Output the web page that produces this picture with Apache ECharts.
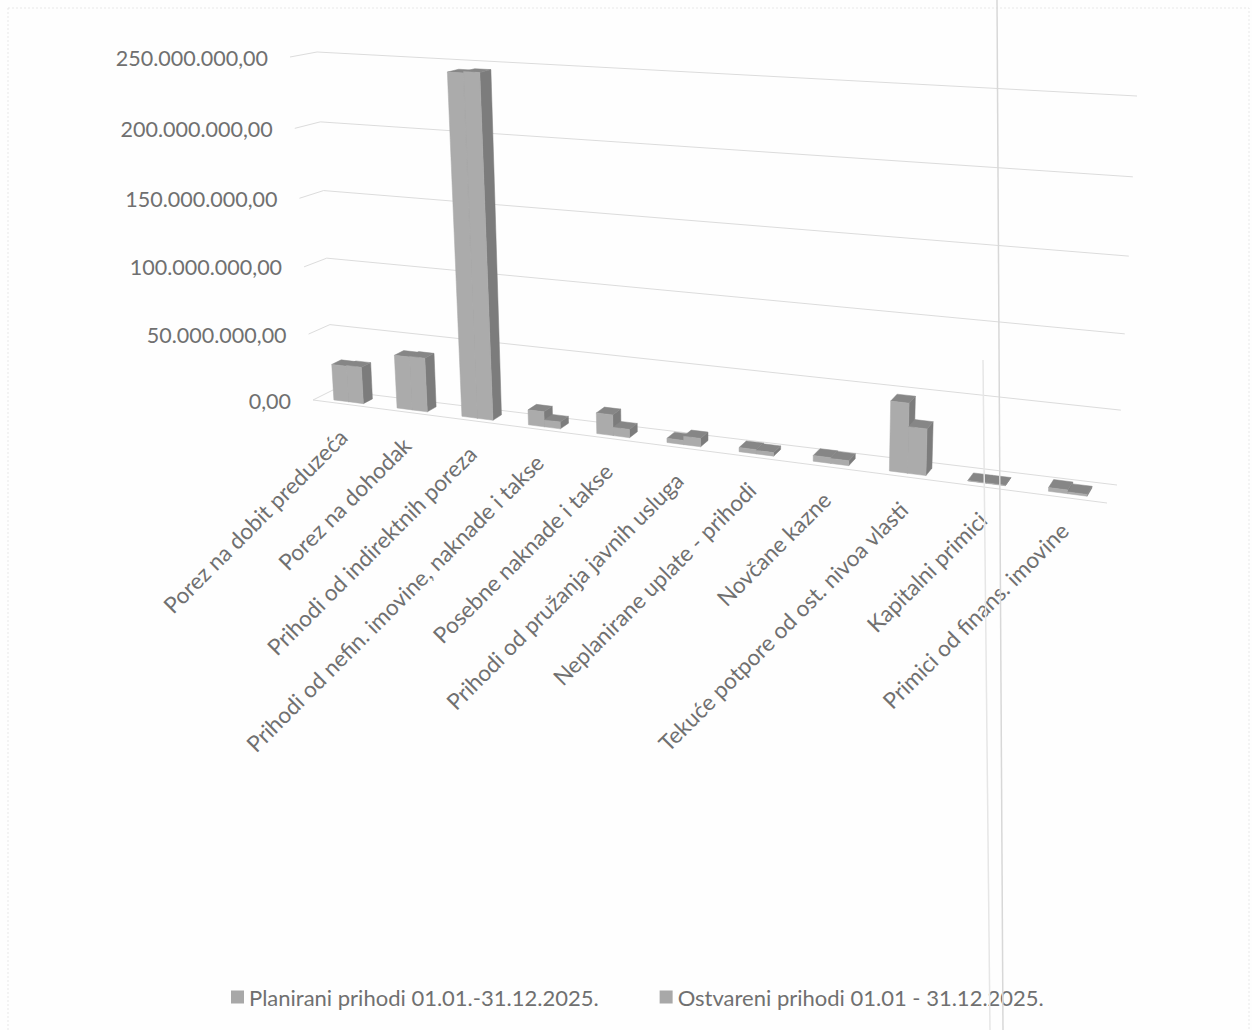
<!DOCTYPE html>
<html><head><meta charset="utf-8">
<style>html,body{margin:0;padding:0;background:#fefefe}#c{width:1252px;height:1030px}</style>
<script src="https://cdn.jsdelivr.net/npm/echarts@6/dist/echarts.min.js"></script>
</head><body><div id="c"></div>
<script>
const categories = ["Porez na dobit preduzeća","Porez na dohodak","Prihodi od indirektnih poreza","Prihodi od nefin. imovine, naknade i takse","Posebne naknade i takse","Prihodi od pružanja javnih usluga","Neplanirane uplate - prihodi","Novčane kazne","Tekuće potpore od ost. nivoa vlasti","Kapitalni primici","Primici od finans. imovine"];
const planirani = [27000000,39500000,245000000,11000000,15000000,3000000,3000000,4000000,48000000,300000,2500000];
const ostvareni = [27500000,40000000,246000000,5000000,6000000,6000000,2500000,3500000,32000000,300000,1200000];
const yTicks = [0,50000000,100000000,150000000,200000000,250000000];
const yTickLabels = ["0,00","50.000.000,00","100.000.000,00","150.000.000,00","200.000.000,00","250.000.000,00"];
const seriesNames = ["Planirani prihodi 01.01.-31.12.2025.","Ostvareni prihodi 01.01 - 31.12.2025."];

// perspective of the chart box: [bottom-left, bottom-right, top-right, top-left]
const frontWall = [[313,400],[1107,503],[1127,107],[290,57]];
const backWall  = [[333,390],[1117,485],[1137,96],[317,52]];
function homography(q){
  const [p0,p1,p2,p3]=q;
  const dx1=p1[0]-p2[0],dx2=p3[0]-p2[0],sx=p0[0]-p1[0]+p2[0]-p3[0];
  const dy1=p1[1]-p2[1],dy2=p3[1]-p2[1],sy=p0[1]-p1[1]+p2[1]-p3[1];
  const d=dx1*dy2-dx2*dy1;
  const g=(sx*dy2-dx2*sy)/d,h=(dx1*sy-sx*dy1)/d;
  const a=p1[0]-p0[0]+g*p1[0],b=p3[0]-p0[0]+h*p3[0],c=p0[0];
  const e=p1[1]-p0[1]+g*p1[1],f=p3[1]-p0[1]+h*p3[1],k=p0[1];
  return (u,v)=>{const w=g*u+h*v+1;return [(a*u+b*v+c)/w,(e*u+f*v+k)/w];};
}
const H0=homography(frontWall),H1=homography(backWall);
function proj(u,v,w){const a=H0(u,v),b=H1(u,v);return [a[0]+(b[0]-a[0])*w,a[1]+(b[1]-a[1])*w];}

const barW=0.235, depth0=0.22, depth1=0.68;
const frontCol='#ababab', sideCol='#7c7c7c', topCol='#868686', textCol='#707070';
const yFont='21.5px Lato', xFont='22.5px Lato';

function norm(params,pt){const r=params.coordSys;return [(pt[0]-r.x)/r.width,1-(pt[1]-r.y)/r.height];}
function barRenderer(offset){
  return function(params,api){
    const i=api.value(0),val=api.value(1);
    const band=api.size([1,0])[0]/params.coordSys.width;
    const a=norm(params,api.coord([i,val])),b=norm(params,api.coord([i,0]));
    const u0=a[0]+offset*band,u1=u0+barW*band,vt=a[1],vb=b[1];
    const poly=(pts,fill)=>({type:'polygon',shape:{points:pts},style:{fill:fill,stroke:fill,lineWidth:0.5}});
    return {type:'group',children:[
      poly([proj(u1,vb,depth0),proj(u1,vb,depth1),proj(u1,vt,depth1),proj(u1,vt,depth0)],sideCol),
      poly([proj(u0,vt,depth0),proj(u1,vt,depth0),proj(u1,vt,depth1),proj(u0,vt,depth1)],topCol),
      poly([proj(u0,vb,depth0),proj(u1,vb,depth0),proj(u1,vt,depth0),proj(u0,vt,depth0)],frontCol)
    ]};
  };
}
function gridRenderer(params,api){
  const val=api.value(0);
  const v=norm(params,api.coord([0,val]))[1];
  const a=proj(0,v,0),b=proj(0,v,1),c=proj(1,v,1);
  const st={fill:'none',stroke:'#dcdcdc',lineWidth:1};
  const lines=[{type:'polyline',shape:{points:[a,b,c]},style:st}];
  if(val===0){lines.push({type:'polyline',shape:{points:[a,proj(1,v,0)]},style:st});}
  return {type:'group',children:lines};
}
function yLabelRenderer(params,api){
  const val=api.value(0),idx=params.dataIndex;
  const p=proj(0,norm(params,api.coord([0,val]))[1],0);
  return {type:'text',x:p[0]-22,y:p[1]+0.5,style:{text:yTickLabels[idx],align:'right',verticalAlign:'middle',font:yFont,fill:textCol}};
}
function xLabelRenderer(params,api){
  const i=api.value(0);
  const n=norm(params,api.coord([i,0]));
  const p=proj(n[0],n[1],0);
  return {type:'text',x:p[0]-1,y:p[1]+29,rotation:Math.PI/4,style:{text:categories[i],align:'right',verticalAlign:'middle',font:xFont,fill:textCol}};
}
const chart=echarts.init(document.getElementById('c'),null,{renderer:'svg'});
chart.setOption({
  backgroundColor:'#fefefe',
  animation:false,
  grid:{left:100,top:50,width:1000,height:800},
  xAxis:{type:'category',data:categories,show:false},
  yAxis:{type:'value',min:0,max:250000000,interval:50000000,show:false},
  legend:{left:231,top:986,padding:0,itemWidth:13,itemHeight:13,itemGap:61,icon:'rect',selectedMode:false,
    data:seriesNames,textStyle:{fontFamily:'Lato',fontSize:22,color:textCol}},
  graphic:[
    {type:'rect',silent:true,shape:{x:8,y:8,width:1241,height:1030},style:{fill:'none',stroke:'#e8e8e8',lineWidth:1,lineDash:[2,2]}},
    {type:'line',silent:true,z:20,shape:{x1:997,y1:0,x2:1003,y2:1030},style:{stroke:'#d8d8d8',lineWidth:1.5}},
    {type:'line',silent:true,z:20,shape:{x1:983,y1:360,x2:990,y2:1030},style:{stroke:'#e6e6e6',lineWidth:1.5}}
  ],
  series:[
    {type:'custom',name:'grid',z:1,silent:true,data:yTicks.map(t=>[t]),encode:{y:0},renderItem:gridRenderer},
    {type:'custom',name:seriesNames[0],z:3,silent:true,itemStyle:{color:'#a8a8a8'},data:planirani.map((v,i)=>[i,v]),encode:{x:0,y:1},renderItem:barRenderer(-barW)},
    {type:'custom',name:seriesNames[1],z:4,silent:true,itemStyle:{color:'#a8a8a8'},data:ostvareni.map((v,i)=>[i,v]),encode:{x:0,y:1},renderItem:barRenderer(0)},
    {type:'custom',name:'yLabels',z:5,silent:true,data:yTicks.map(t=>[t]),encode:{y:0},renderItem:yLabelRenderer},
    {type:'custom',name:'xLabels',z:5,silent:true,data:categories.map((c,i)=>[i]),encode:{x:0},renderItem:xLabelRenderer}
  ]
});
</script></body></html>
